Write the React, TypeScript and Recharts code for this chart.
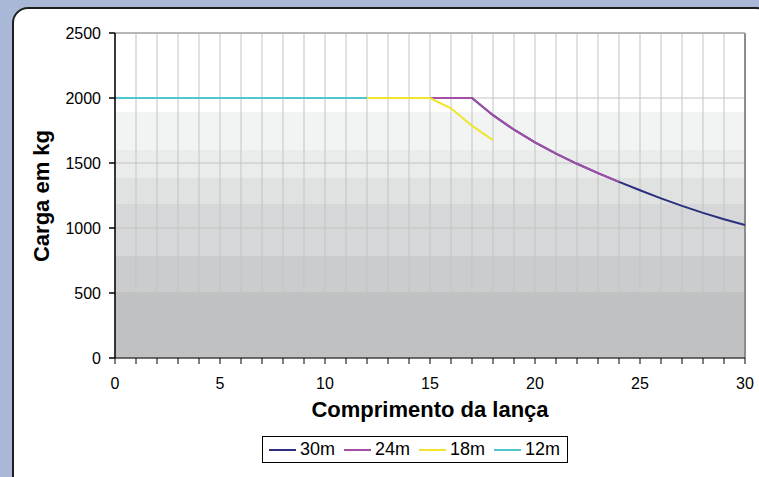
import { LineChart, Line, XAxis, YAxis, CartesianGrid, ReferenceLine } from 'recharts'

// boom reach in metres and load in kg
const reach30 = [0, 1, 2, 3, 4, 5, 6, 7, 8, 9, 10, 11, 12, 13, 14, 15, 16, 17, 18, 19, 20, 21, 22, 23, 24, 25, 26, 27, 28, 29, 30]
const load30 = [2000, 2000, 2000, 2000, 2000, 2000, 2000, 2000, 2000, 2000, 2000, 2000, 2000, 2000, 2000, 2000, 2000, 2000, 1868, 1756, 1658, 1572, 1494, 1422, 1355, 1290, 1228, 1170, 1116, 1067, 1023]

const reach24 = [0, 1, 2, 3, 4, 5, 6, 7, 8, 9, 10, 11, 12, 13, 14, 15, 16, 17, 18, 19, 20, 21, 22, 23, 24]
const load24 = [2000, 2000, 2000, 2000, 2000, 2000, 2000, 2000, 2000, 2000, 2000, 2000, 2000, 2000, 2000, 2000, 2000, 2000, 1868, 1756, 1658, 1572, 1494, 1422, 1355]

const reach18 = [0, 1, 2, 3, 4, 5, 6, 7, 8, 9, 10, 11, 12, 13, 14, 15, 16, 17, 18]
const load18 = [2000, 2000, 2000, 2000, 2000, 2000, 2000, 2000, 2000, 2000, 2000, 2000, 2000, 2000, 2000, 2000, 1921, 1787, 1675]

const reach12 = [0, 1, 2, 3, 4, 5, 6, 7, 8, 9, 10, 11, 12]
const load12 = [2000, 2000, 2000, 2000, 2000, 2000, 2000, 2000, 2000, 2000, 2000, 2000, 2000]

const xTicks = [0, 1, 2, 3, 4, 5, 6, 7, 8, 9, 10, 11, 12, 13, 14, 15, 16, 17, 18, 19, 20, 21, 22, 23, 24, 25, 26, 27, 28, 29, 30]
const yTicks = [0, 500, 1000, 1500, 2000, 2500]

const seriesNames = ['30m', '24m', '18m', '12m']
const seriesColors = ['#2b2f7e', '#a24fa8', '#efe52c', '#4fc6d0']

// background shading bands (value where each band starts, going down)
const bandTops = [2500, 1892, 1600, 1385, 1185, 785, 508]
const bandColors = ['#ffffff', '#f2f3f3', '#eaebeb', '#e0e1e1', '#d6d7d8', '#cbcccd', '#c0c1c2']

const FONT = '"Liberation Sans", Arial, sans-serif'

const toPoints = (xs: number[], ys: number[]) => xs.map((x, i) => ({ x, y: ys[i] }))

const series = [
  toPoints(reach30, load30),
  toPoints(reach24, load24),
  toPoints(reach18, load18),
  toPoints(reach12, load12),
]

export default function App() {
  const stops: JSX.Element[] = []
  bandTops.forEach((top, i) => {
    const start = (2500 - top) / 2500
    const end = i + 1 < bandTops.length ? (2500 - bandTops[i + 1]) / 2500 : 1
    stops.push(<stop key={`a${i}`} offset={start} stopColor={bandColors[i]} />)
    stops.push(<stop key={`b${i}`} offset={end} stopColor={bandColors[i]} />)
  })

  return (
    <div style={{ position: 'absolute', left: 0, top: 0, width: 759, height: 477, background: '#aab8d7', overflow: 'hidden', fontFamily: FONT }}>
      <div style={{ position: 'absolute', left: 12, top: 7, width: 760, height: 490, background: '#fff', border: '2px solid #1e1e1e', borderRadius: 16, boxSizing: 'border-box' }} />
      <LineChart
        width={759}
        height={477}
        margin={{ top: 33, right: 14, bottom: 89, left: 55 }}
        style={{ position: 'absolute', left: 0, top: 0 }}
      >
        <defs>
          <linearGradient id="plotBg" x1="0" y1="0" x2="0" y2="1">
            {stops}
          </linearGradient>
        </defs>
        <CartesianGrid stroke="#c3c3c3" fill="url(#plotBg)" fillOpacity={1} />
        <XAxis
          type="number"
          dataKey="x"
          domain={[0, 30]}
          ticks={xTicks}
          interval={0}
          tickFormatter={(v: number) => (v % 5 === 0 ? String(v) : '')}
          tickSize={6}
          tickMargin={14}
          height={30}
          stroke="#000"
          tick={{ fill: '#000', fontSize: 16, fontFamily: FONT }}
          allowDuplicatedCategory={false}
        />
        <YAxis
          type="number"
          domain={[0, 2500]}
          ticks={yTicks}
          interval={0}
          tickSize={6}
          tickMargin={8}
          width={60}
          stroke="#000"
          strokeWidth={1.5}
          tick={{ fill: '#000', fontSize: 16, fontFamily: FONT }}
        />
        <ReferenceLine x={30} stroke="#8c8c8c" strokeWidth={2} />
        <ReferenceLine y={2500} stroke="#a8a8a8" strokeWidth={1.5} />
        {series.map((pts, i) => (
          <Line
            key={seriesNames[i]}
            data={pts}
            dataKey="y"
            name={seriesNames[i]}
            type="linear"
            stroke={seriesColors[i]}
            strokeWidth={2}
            dot={false}
            activeDot={false}
            isAnimationActive={false}
          />
        ))}
      </LineChart>

      <div style={{ position: 'absolute', left: 180, width: 500, top: 397, textAlign: 'center', fontWeight: 'bold', fontSize: 22, color: '#000' }}>
        Comprimento da lança
      </div>
      <div
        style={{
          position: 'absolute', left: 42, top: 196, width: 200, marginLeft: -100, marginTop: -14, height: 28,
          textAlign: 'center', fontWeight: 'bold', fontSize: 22, color: '#000', transform: 'rotate(-90deg)', lineHeight: '28px',
        }}
      >
        Carga em kg
      </div>

      <div
        style={{
          position: 'absolute', left: 262, top: 436, width: 306, height: 27, boxSizing: 'border-box',
          border: '1px solid #000', background: '#fff', display: 'flex', alignItems: 'center', paddingLeft: 6, fontSize: 18, color: '#000',
        }}
      >
        {seriesNames.map((n, i) => (
          <div key={n} style={{ display: 'flex', alignItems: 'center', marginRight: 9 }}>
            <div style={{ width: 27, height: 2, background: seriesColors[i], marginRight: 4 }} />
            <span>{n}</span>
          </div>
        ))}
      </div>
    </div>
  )
}
